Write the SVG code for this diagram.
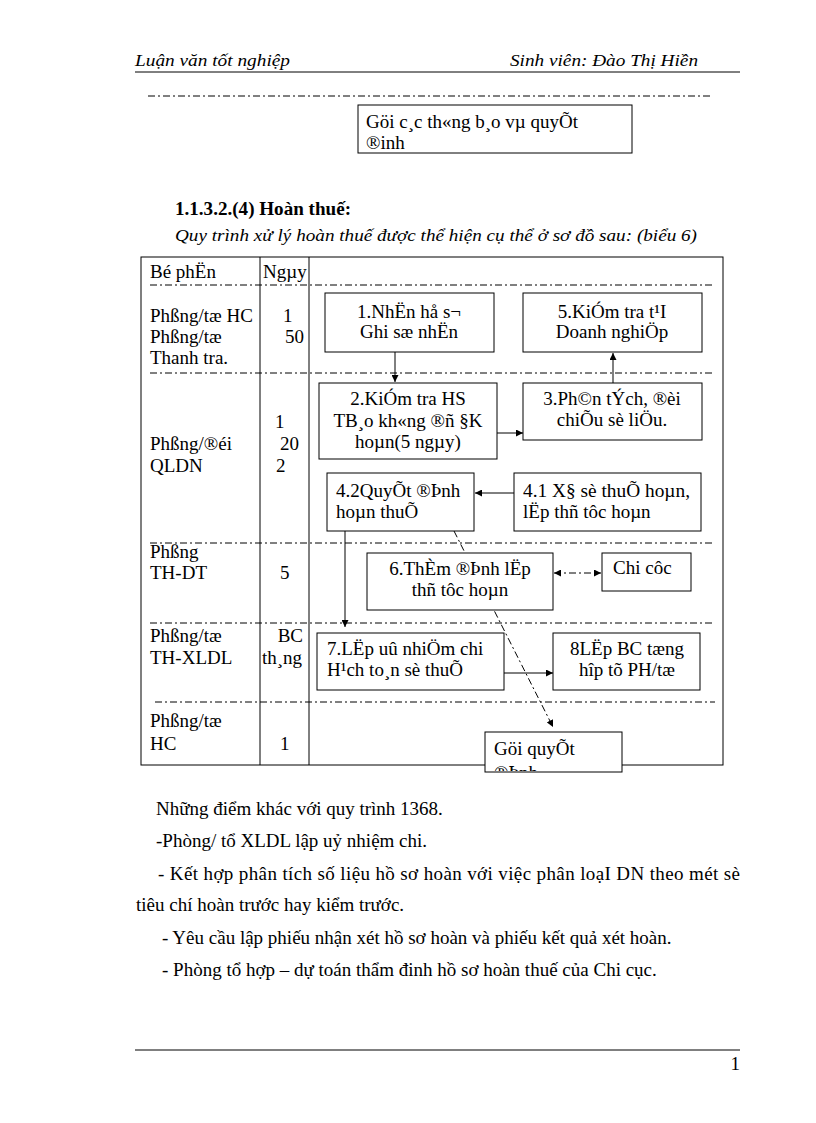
<svg xmlns="http://www.w3.org/2000/svg" width="816" height="1123" viewBox="0 0 816 1123">
<style>
text{font-family:"Liberation Serif","Times New Roman",serif;fill:#000}
.hd{font-size:17px;font-style:italic}
.t{font-size:19px}
.b{font-size:19px}
.c{text-anchor:middle}
.box{fill:#fff;stroke:#000;stroke-width:1}
.dd{fill:none;stroke:#000;stroke-width:1;stroke-dasharray:7 3 2 3}
.ln{fill:none;stroke:#000;stroke-width:1}
</style>
<defs>
<marker id="ah" viewBox="0 0 10 10" refX="10" refY="5" markerWidth="7" markerHeight="7" orient="auto-start-reverse" markerUnits="userSpaceOnUse">
<path d="M0,0 L10,5 L0,10 z" fill="#000"/>
</marker>
<clipPath id="clipG"><rect x="486" y="733" width="135" height="38"/></clipPath>
</defs>

<g id="page-header">
<text class="hd" x="135" y="66" textLength="155" lengthAdjust="spacingAndGlyphs">Luận văn tốt nghiệp</text>
<text class="hd" x="510" y="66" textLength="188" lengthAdjust="spacingAndGlyphs">Sinh viên: Đào Thị Hiền</text>
<line class="ln" x1="135" y1="72" x2="740" y2="72"/>
<line class="dd" x1="148" y1="96" x2="712" y2="96"/>
</g>

<g id="top-box">
<rect class="box" x="358" y="105" width="274" height="48"/>
<text class="t" x="366" y="128">Göi c¸c th«ng b¸o vµ quyÕt</text>
<text class="t" x="366" y="149">®inh</text>
</g>

<g id="heading">
<text x="175" y="215" style="font-size:18.5px;font-weight:bold" textLength="176" lengthAdjust="spacingAndGlyphs">1.1.3.2.(4) Hoàn thuế:</text>
<text class="hd" x="175" y="241" textLength="522" lengthAdjust="spacingAndGlyphs">Quy trình xử lý hoàn thuế được thể hiện cụ thể ở sơ đồ sau: (biểu 6)</text>
</g>

<g id="table">
<rect x="141" y="257" width="582" height="508" fill="#fff" stroke="#000" stroke-width="1"/>
<line class="ln" x1="260" y1="257" x2="260" y2="765"/>
<line class="ln" x1="309" y1="257" x2="309" y2="765"/>
<line class="dd" x1="150" y1="285" x2="715" y2="285"/>
<line class="dd" x1="150" y1="373" x2="715" y2="373"/>
<line class="dd" x1="150" y1="543" x2="715" y2="543"/>
<line class="dd" x1="150" y1="623" x2="715" y2="623"/>
<line class="dd" x1="155" y1="702" x2="715" y2="702"/>
</g>

<g id="row-labels">
<text class="t" x="150" y="278">Bé phËn</text>
<text class="t" x="263" y="278">Ngµy</text>
<text class="t" x="150" y="322">Phßng/tæ HC</text>
<text class="t" x="283" y="322">1</text>
<text class="t" x="150" y="343">Phßng/tæ</text>
<text class="t" x="285" y="343">50</text>
<text class="t" x="150" y="364">Thanh tra.</text>
<text class="t" x="275" y="428">1</text>
<text class="t" x="150" y="450">Phßng/®éi</text>
<text class="t" x="280" y="450">20</text>
<text class="t" x="150" y="472">QLDN</text>
<text class="t" x="276" y="472">2</text>
<text class="t" x="150" y="558">Phßng</text>
<text class="t" x="150" y="579">TH-DT</text>
<text class="t" x="280" y="579">5</text>
<text class="t" x="150" y="642">Phßng/tæ</text>
<text class="t" x="150" y="664">TH-XLDL</text>
<text class="t" x="303" y="642" style="text-anchor:end">BC</text>
<text class="t" x="262" y="664">th¸ng</text>
<text class="t" x="150" y="727">Phßng/tæ</text>
<text class="t" x="150" y="750">HC</text>
<text class="t" x="280" y="750">1</text>
</g>

<g id="connectors">
<line class="dd" x1="454" y1="531" x2="553" y2="727" marker-end="url(#ah)"/>
<line class="ln" x1="395" y1="352" x2="395" y2="382" marker-end="url(#ah)"/>
<line class="ln" x1="613" y1="383" x2="613" y2="353" marker-end="url(#ah)"/>
<line class="ln" x1="497" y1="433" x2="523" y2="433" marker-end="url(#ah)"/>
<line class="ln" x1="514" y1="493" x2="475" y2="493" marker-end="url(#ah)"/>
<line class="ln" x1="345" y1="531" x2="345" y2="627" marker-end="url(#ah)"/>
<line class="dd" x1="554" y1="573" x2="601" y2="573" marker-start="url(#ah)" marker-end="url(#ah)"/>
<line class="ln" x1="504" y1="673" x2="553" y2="673" marker-end="url(#ah)"/>
</g>

<g id="n1">
<rect class="box" x="325" y="293" width="169" height="59"/>
<text class="t c" x="409" y="318">1.NhËn hå s¬</text>
<text class="t c" x="409" y="338">Ghi sæ nhËn</text>
</g>
<g id="n5">
<rect class="box" x="523" y="293" width="179" height="59"/>
<text class="t c" x="612" y="318">5.KiÓm tra t¹I</text>
<text class="t c" x="612" y="338">Doanh nghiÖp</text>
</g>
<g id="n2">
<rect class="box" x="319" y="383" width="178" height="76"/>
<text class="t c" x="408" y="405">2.KiÓm tra HS</text>
<text class="t c" x="408" y="427">TB¸o kh«ng ®ñ §K</text>
<text class="t c" x="408" y="448">hoµn(5 ngµy)</text>
</g>
<g id="n3">
<rect class="box" x="523" y="383" width="179" height="57"/>
<text class="t c" x="612" y="405">3.Ph©n tÝch, ®èi</text>
<text class="t c" x="612" y="426">chiÕu sè liÖu.</text>
</g>
<g id="n42">
<rect class="box" x="327" y="473" width="147" height="58"/>
<text class="t" x="336" y="497">4.2QuyÕt ®Þnh</text>
<text class="t" x="336" y="518">hoµn thuÕ</text>
</g>
<g id="n41">
<rect class="box" x="514" y="473" width="187" height="58"/>
<text class="t" x="523" y="497" textLength="167" lengthAdjust="spacingAndGlyphs">4.1 X§ sè thuÕ hoµn,</text>
<text class="t" x="523" y="518">lËp thñ tôc hoµn</text>
</g>
<g id="n6">
<rect class="box" x="367" y="553" width="186" height="57"/>
<text class="t c" x="460" y="575">6.ThÈm ®Þnh lËp</text>
<text class="t c" x="460" y="596">thñ tôc hoµn</text>
</g>
<g id="chicuc">
<rect class="box" x="602" y="553" width="89" height="38"/>
<text class="t" x="613" y="574">Chi côc</text>
</g>
<g id="n7">
<rect class="box" x="317" y="633" width="187" height="57"/>
<text class="t" x="327" y="655">7.LËp uû nhiÖm chi</text>
<text class="t" x="327" y="676">H¹ch to¸n sè thuÕ</text>
</g>
<g id="n8">
<rect class="box" x="553" y="633" width="147" height="57"/>
<text class="t c" x="627" y="655">8LËp BC tæng</text>
<text class="t c" x="627" y="676">hîp tõ PH/tæ</text>
</g>
<g id="gui">
<rect class="box" x="485" y="732" width="137" height="40"/>
<g clip-path="url(#clipG)">
<text class="t" x="494" y="755">Göi quyÕt</text>
<text class="t" x="494" y="779">®Þnh</text>
</g>
</g>

<g id="body">
<text class="b" x="156" y="815">Những  điểm khác với  quy trình 1368.</text>
<text class="b" x="156" y="847">-Phòng/ tổ XLDL  lập uỷ nhiệm  chi.</text>
<text class="b" x="158" y="880" textLength="582" lengthAdjust="spacing">- Kết hợp phân tích số liệu  hồ sơ hoàn với việc phân loạI DN theo mét sè</text>
<text class="b" x="136" y="911">tiêu  chí hoàn trước hay kiểm  trước.</text>
<text class="b" x="162" y="944">- Yêu cầu lập phiếu nhận xét hồ sơ hoàn và phiếu kết quả xét hoàn.</text>
<text class="b" x="162" y="976">- Phòng tổ hợp – dự toán thẩm đinh hồ sơ hoàn thuế của Chi cục.</text>
</g>

<g id="footer">
<line class="ln" x1="135" y1="1050" x2="740" y2="1050"/>
<text class="b" x="740" y="1070" style="text-anchor:end">1</text>
</g>
</svg>
